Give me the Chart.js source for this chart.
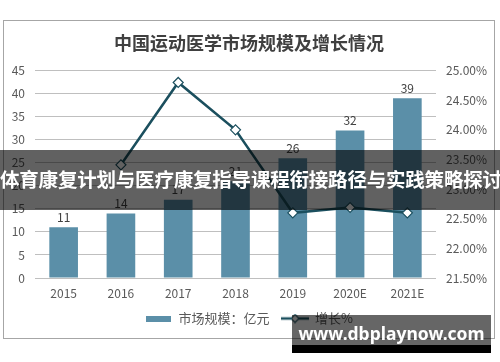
<!DOCTYPE html>
<html>
<head>
<meta charset="utf-8">
<script src="https://cdn.jsdelivr.net/npm/chart.js@4.4.0/dist/chart.umd.min.js"></script>
<style>
    body { margin: 0; width: 500px; height: 362px; background: #fff; position: relative; overflow: hidden; font-family: "Noto Sans CJK SC", sans-serif; }
    #box { position: absolute; left: 3px; top: 20px; width: 492px; height: 319px; border: 1px solid #a6a6a6; box-sizing: border-box; }
    #banner { position: absolute; left: 0; top: 150px; width: 500px; height: 60px; background: rgba(0,0,0,0.62); color: #fff; font-weight: bold; font-size: 19.5px; letter-spacing: -0.2px; line-height: 58px; text-align: center; white-space: nowrap; }
    #mark { position: absolute; left: 292px; top: 315px; width: 199px; height: 30px; background: rgba(0,0,0,0.6); }
    #markBottom { position: absolute; left: 292px; top: 345px; width: 199px; height: 8px; background: #000; }
    #markText { position: absolute; left: 292px; top: 318px; width: 199px; text-align: center; color: #fff; font: bold 17.5px "Noto Sans", sans-serif; line-height: 30px; }
</style>
</head>
<body>
<div id="box"><canvas id="marketChart"></canvas></div>
<div id="banner">体育康复计划与医疗康复指导课程衔接路径与实践策略探讨</div>
<div id="mark"></div>
<div id="markBottom"></div>
<div id="markText">www.dbplaynow.com</div>
<script>
// js/market.js
const years = ['2015', '2016', '2017', '2018', '2019', '2020E', '2021E'];
const marketSize = [11, 14, 17, 21, 26, 32, 39];
const growthRate = [null, 23.41, 24.80, 24.00, 22.60, 22.69, 22.60];
const sizeTicks = [0, 5, 10, 15, 20, 25, 30, 35, 40, 45];
const rateTicks = [21.5, 22, 22.5, 23, 23.5, 24, 24.5, 25];

const BAR_COLOR = '#5b8fa8';
const LINE_COLOR = '#1b4f5e';
const TEXT_COLOR = '#595959';
const FONT = "'Noto Sans CJK SC', sans-serif";

Chart.defaults.font.family = FONT;
Chart.defaults.color = TEXT_COLOR;

function barSwatch() {
    const c = document.createElement('canvas');
    c.width = 25; c.height = 6;
    const g = c.getContext('2d');
    g.fillStyle = BAR_COLOR;
    g.fillRect(0, 0, 25, 6);
    return c;
}

function lineSwatch() {
    const c = document.createElement('canvas');
    c.width = 28; c.height = 10;
    const g = c.getContext('2d');
    g.strokeStyle = LINE_COLOR;
    g.lineWidth = 2.5;
    g.beginPath(); g.moveTo(0, 5); g.lineTo(28, 5); g.stroke();
    g.fillStyle = '#fff';
    g.lineWidth = 1.2;
    g.beginPath();
    g.moveTo(14, 1); g.lineTo(18, 5); g.lineTo(14, 9); g.lineTo(10, 5); g.closePath();
    g.fill(); g.stroke();
    return c;
}

const barLabels = {
    id: 'barLabels',
    afterDatasetsDraw(chart) {
        const meta = chart.getDatasetMeta(0);
        const ctx = chart.ctx;
        ctx.save();
        ctx.font = `12px ${FONT}`;
        ctx.fillStyle = '#404040';
        ctx.textAlign = 'center';
        ctx.textBaseline = 'bottom';
        meta.data.forEach((bar, i) => {
            ctx.fillText(marketSize[i], bar.x, bar.y - 4);
        });
        ctx.restore();
    }
};

new Chart(document.getElementById('marketChart'), {
    data: {
        labels: years,
        datasets: [{
            type: 'bar',
            label: '市场规模：亿元',
            data: marketSize,
            backgroundColor: BAR_COLOR,
            barPercentage: 0.5,
            categoryPercentage: 1,
            yAxisID: 'y',
            order: 1
        }, {
            type: 'line',
            label: '增长%',
            data: growthRate,
            borderColor: LINE_COLOR,
            borderWidth: 2.5,
            pointStyle: 'rectRot',
            pointRadius: 5,
            pointBackgroundColor: '#fff',
            pointBorderColor: LINE_COLOR,
            pointBorderWidth: 1.2,
            tension: 0,
            yAxisID: 'y1',
            order: 0
        }]
    },
    options: {
        responsive: true,
        maintainAspectRatio: false,
        animation: false,
        layout: { padding: { bottom: 3 } },
        plugins: {
            tooltip: { enabled: false },
            title: {
                display: true,
                text: '中国运动医学市场规模及增长情况',
                color: '#404040',
                font: { size: 18, weight: 'bold' },
                padding: { top: 11, bottom: 17 }
            },
            legend: {
                position: 'bottom',
                labels: {
                    usePointStyle: true,
                    pointStyleWidth: 27,
                    padding: 12,
                    font: { size: 13, lineHeight: 1 },
                    color: TEXT_COLOR,
                    sort: (a, b) => a.datasetIndex - b.datasetIndex,
                    generateLabels(chart) {
                        const items = Chart.defaults.plugins.legend.labels.generateLabels(chart);
                        items.forEach((item) => {
                            item.pointStyle = item.datasetIndex === 0 ? barSwatch() : lineSwatch();
                        });
                        return items;
                    }
                }
            }
        },
        scales: {
            x: {
                grid: { display: false, drawTicks: false },
                border: { display: false },
                afterFit: (scale) => { scale.height = 22; },
                ticks: { font: { size: 12 }, padding: 8 }
            },
            y: {
                position: 'left',
                min: 0,
                max: 45,
                afterBuildTicks: (scale) => { scale.ticks = sizeTicks.map((v) => ({ value: v })); },
                afterFit: (scale) => { scale.width = 31; },
                grid: { color: '#bfbfbf', drawTicks: false },
                border: { display: false },
                ticks: { font: { size: 12 }, padding: 10 }
            },
            y1: {
                position: 'right',
                min: 21.5,
                max: 25,
                afterBuildTicks: (scale) => { scale.ticks = rateTicks.map((v) => ({ value: v })); },
                afterFit: (scale) => { scale.width = 58; },
                grid: { display: false, drawTicks: false },
                border: { display: false },
                ticks: { font: { size: 12 }, padding: 10, callback: (v) => v.toFixed(2) + '%' }
            }
        }
    },
    plugins: [barLabels]
});
</script>
</body>
</html>
